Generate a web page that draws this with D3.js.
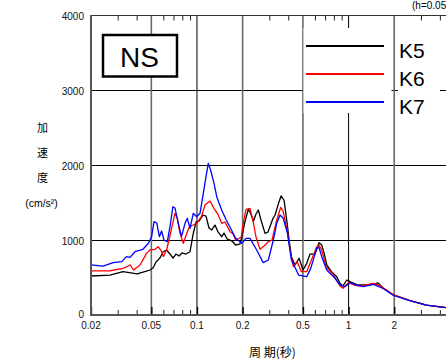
<!DOCTYPE html>
<html><head><meta charset="utf-8">
<script src="https://cdn.jsdelivr.net/npm/d3@7"></script>
<style>
html,body{margin:0;padding:0;background:#fff;overflow:hidden}
text{font-family:"Liberation Sans",Arial,sans-serif}
.cjk{font-family:"Noto Sans CJK JP","Noto Sans CJK SC",sans-serif}
</style></head><body>
<script>
// ---- data (period [s], acceleration [cm/s^2]) ----
const seriesNames = ["K5","K6","K7"];
const seriesColors = ["#000000","#ff0000","#0000ff"];
const K5 = [[0.020,520],[0.0267,533],[0.0325,577],[0.0403,547],[0.047,587],[0.049,600],[0.0513,627],[0.0537,707],[0.057,760],[0.0597,840],[0.063,867],[0.0664,813],[0.0695,760],[0.0727,813],[0.0761,787],[0.0797,827],[0.0847,813],[0.090,844],[0.0941,1067],[0.0986,1240],[0.1031,1253],[0.1096,1333],[0.1147,1320],[0.120,1160],[0.125,1133],[0.1315,1200],[0.1377,1107],[0.1455,1044],[0.1508,1093],[0.158,1013],[0.1652,1000],[0.173,973],[0.180,933],[0.1923,947],[0.198,1053],[0.207,1240],[0.218,1409],[0.2238,1373],[0.236,1253],[0.2451,1347],[0.2537,1400],[0.2644,1267],[0.2811,1089],[0.2942,1107],[0.3174,1289],[0.3273,1333],[0.345,1489],[0.3585,1587],[0.3752,1533],[0.3934,1222],[0.405,1000],[0.4196,778],[0.4434,667],[0.4712,756],[0.5006,600],[0.5295,689],[0.5567,813],[0.600,813],[0.6382,964],[0.665,933],[0.6885,827],[0.718,667],[0.7715,578],[0.8348,511],[0.8778,422],[0.9185,387],[0.9726,467],[1.054,431],[1.154,400],[1.303,400],[1.46,413],[1.564,427],[1.70,356],[1.98,267],[2.54,191],[3.26,133],[4.78,89],[5.2,82]];
const K6 = [[0.020,587],[0.0267,590],[0.0326,622],[0.0362,667],[0.0382,600],[0.0421,667],[0.0465,822],[0.049,867],[0.0529,876],[0.0555,911],[0.0585,844],[0.060,778],[0.063,867],[0.0654,1000],[0.068,1156],[0.0716,1356],[0.0742,1289],[0.0773,1089],[0.0812,956],[0.0882,1156],[0.0913,1187],[0.0945,1200],[0.0996,1222],[0.1069,1311],[0.113,1467],[0.1219,1520],[0.1295,1422],[0.1383,1333],[0.1455,1222],[0.153,1240],[0.1652,1111],[0.173,1080],[0.180,1000],[0.196,1040],[0.201,1200],[0.2106,1409],[0.2238,1422],[0.235,1240],[0.2451,1040],[0.2605,876],[0.2768,920],[0.2942,973],[0.3127,1000],[0.3358,1267],[0.3568,1436],[0.3705,1378],[0.3934,1133],[0.411,867],[0.4321,644],[0.4578,711],[0.488,578],[0.5295,578],[0.5627,711],[0.6162,911],[0.6382,933],[0.665,867],[0.7097,644],[0.788,547],[0.8778,387],[0.9185,356],[0.996,431],[1.086,400],[1.154,387],[1.303,400],[1.46,422],[1.62,387],[1.78,333],[1.98,267],[2.54,191],[3.26,133],[4.78,87],[5.2,80]];
const K7 = [[0.020,667],[0.024,653],[0.028,698],[0.0319,711],[0.0343,778],[0.0362,769],[0.039,844],[0.044,876],[0.0478,956],[0.0502,1044],[0.0521,1244],[0.0543,1227],[0.0565,1044],[0.0584,1120],[0.0606,1000],[0.0637,978],[0.0664,1178],[0.0694,1444],[0.0716,1427],[0.0753,1222],[0.0791,1044],[0.0834,1222],[0.0864,1289],[0.090,1156],[0.0945,1356],[0.0996,1311],[0.1047,1356],[0.1101,1622],[0.1147,1844],[0.1188,2022],[0.123,1933],[0.1295,1756],[0.135,1578],[0.1455,1400],[0.156,1267],[0.1688,1133],[0.18,1022],[0.1975,956],[0.2106,1022],[0.2238,1022],[0.2477,867],[0.2735,698],[0.2955,733],[0.319,1000],[0.3358,1222],[0.3531,1333],[0.3705,1289],[0.395,1093],[0.4196,733],[0.4685,533],[0.5295,511],[0.5627,622],[0.6162,889],[0.6382,903],[0.665,778],[0.718,600],[0.8137,489],[0.8778,400],[0.947,378],[1.022,431],[1.12,400],[1.25,378],[1.46,409],[1.69,353],[1.98,260],[2.54,191],[3.26,133],[4.78,89],[5.2,82]];
const xMajorTicks = [0.02,0.05,0.1,0.2,0.5,1,2,5];
const xLabelTicks = [0.02,0.05,0.1,0.2,0.5,1,2];
const xTickLabels = ["0.02","0.05","0.1","0.2","0.5","1","2"];
const xMinorTicks = [0.03,0.04,0.06,0.07,0.08,0.09,0.3,0.4,0.6,0.7,0.8,0.9,3,4,6,7,8,9];
const yTicks = [0,1000,2000,3000,4000];
const yTickLabels = ["0","1000","2000","3000","4000"];
const yTitle = ["加","速","度"];
const yUnit = "(cm/s²)";
const xTitle = "周 期(秒)";
const caseLabel = "NS";
const dampingNote = "(h=0.05)";

// ---- drawing ----
const W = 446, H = 361;
const x = d3.scaleLog().domain([0.02, 10]).range([91, 500.2]);
const y = d3.scaleLinear().domain([0, 4000]).range([315, 15]);
const svg = d3.select("body").append("svg").attr("width", W).attr("height", H);
svg.append("rect").attr("width", W).attr("height", H).attr("fill", "#fff");

// horizontal grid
svg.append("g").selectAll("line").data(yTicks.filter(v => v > 0 && v < 4000)).join("line")
  .attr("x1", 91).attr("x2", 500).attr("y1", d => Math.round(y(d)) + 0.5).attr("y2", d => Math.round(y(d)) + 0.5)
  .attr("stroke", "#000").attr("stroke-width", 1);

// vertical grid
const isDecade = d => Math.abs(Math.log10(d) - Math.round(Math.log10(d))) < 1e-9;
svg.append("g").selectAll("line").data(xMajorTicks.filter(d => d > 0.02)).join("line")
  .attr("x1", d => x(d)).attr("x2", d => x(d)).attr("y1", 15).attr("y2", 315)
  .attr("stroke", d => isDecade(d) ? "#000" : "#6a6a6a")
  .attr("stroke-width", d => isDecade(d) ? 1 : 1.6);

// minor ticks (bottom: upward, top: downward)
svg.append("g").attr("transform", "translate(0,315)")
  .call(d3.axisTop(x).tickValues(xMinorTicks).tickSize(5).tickFormat(""))
  .call(g => g.select(".domain").remove())
  .call(g => g.selectAll("line").attr("stroke", "#222"));
svg.append("g").attr("transform", "translate(0,15.5)")
  .call(d3.axisBottom(x).tickValues(xMinorTicks).tickSize(5).tickFormat(""))
  .call(g => g.select(".domain").remove())
  .call(g => g.selectAll("line").attr("stroke", "#222"));
// major ticks at bottom
svg.append("g").attr("transform", "translate(0,315)")
  .call(d3.axisTop(x).tickValues(xMajorTicks).tickSize(8).tickFormat(""))
  .call(g => g.select(".domain").remove())
  .call(g => g.selectAll("line").attr("stroke", "#000").attr("stroke-width", 1.4));

// curves
const line = d3.line().x(d => x(d[0])).y(d => y(d[1]));
[K5, K6, K7].forEach((s, i) => {
  svg.append("path").datum(s).attr("d", line).attr("fill", "none")
    .attr("stroke", seriesColors[i]).attr("stroke-width", 1.3).attr("stroke-linejoin", "round");
});

// frame
svg.append("line").attr("x1", 91).attr("x2", 500).attr("y1", 15.5).attr("y2", 15.5).attr("stroke", "#333").attr("stroke-width", 1);
svg.append("line").attr("x1", 91).attr("x2", 500).attr("y1", 315).attr("y2", 315).attr("stroke", "#555").attr("stroke-width", 2);
svg.append("line").attr("x1", 91).attr("x2", 91).attr("y1", 15).attr("y2", 316).attr("stroke", "#555").attr("stroke-width", 2);

// legend
svg.append("rect").attr("x", 303.5).attr("y", 28).attr("width", 88).attr("height", 85).attr("fill", "#fff");
svg.append("rect").attr("x", 398).attr("y", 32).attr("width", 42).attr("height", 82).attr("fill", "#fff");
seriesNames.forEach((n, i) => {
  const ly = 46 + i * 28;
  svg.append("line").attr("x1", 306).attr("x2", 384).attr("y1", ly).attr("y2", ly)
    .attr("stroke", seriesColors[i]).attr("stroke-width", 2.2);
  svg.append("text").attr("x", 399).attr("y", ly + 12).attr("font-size", 21).attr("fill", "#000").text(n);
});

// NS box
svg.append("rect").attr("x", 103).attr("y", 35).attr("width", 74).attr("height", 41.5)
  .attr("fill", "#fff").attr("stroke", "#000").attr("stroke-width", 2.5);
svg.append("text").attr("x", 139.5).attr("y", 66.5).attr("text-anchor", "middle").attr("font-size", 28).text(caseLabel);

// y tick labels
svg.append("g").selectAll("text").data(yTicks).join("text")
  .attr("x", 84).attr("y", (d, i) => d === 0 ? y(d) + 3 : y(d) + 5)
  .attr("text-anchor", "end").attr("font-size", 10).attr("fill", "#111")
  .text((d, i) => yTickLabels[i]);
// x tick labels
svg.append("g").selectAll("text").data(xLabelTicks).join("text")
  .attr("x", d => x(d)).attr("y", 328.5)
  .attr("text-anchor", "middle").attr("font-size", 10).attr("fill", "#111")
  .text((d, i) => xTickLabels[i]);

// titles
yTitle.forEach((c, i) => {
  svg.append("text").attr("class", "cjk").attr("x", 42.5).attr("y", 132 + i * 25)
    .attr("text-anchor", "middle").attr("font-size", 11).text(c);
});
svg.append("text").attr("x", 41.5).attr("y", 207).attr("text-anchor", "middle").attr("font-size", 10.5).text(yUnit);
svg.append("text").attr("class", "cjk").attr("x", 272.5).attr("y", 357).attr("text-anchor", "middle").attr("font-size", 12).text(xTitle);
svg.append("text").attr("x", 412).attr("y", 8.5).attr("font-size", 10).text(dampingNote);
</script>
</body></html>
